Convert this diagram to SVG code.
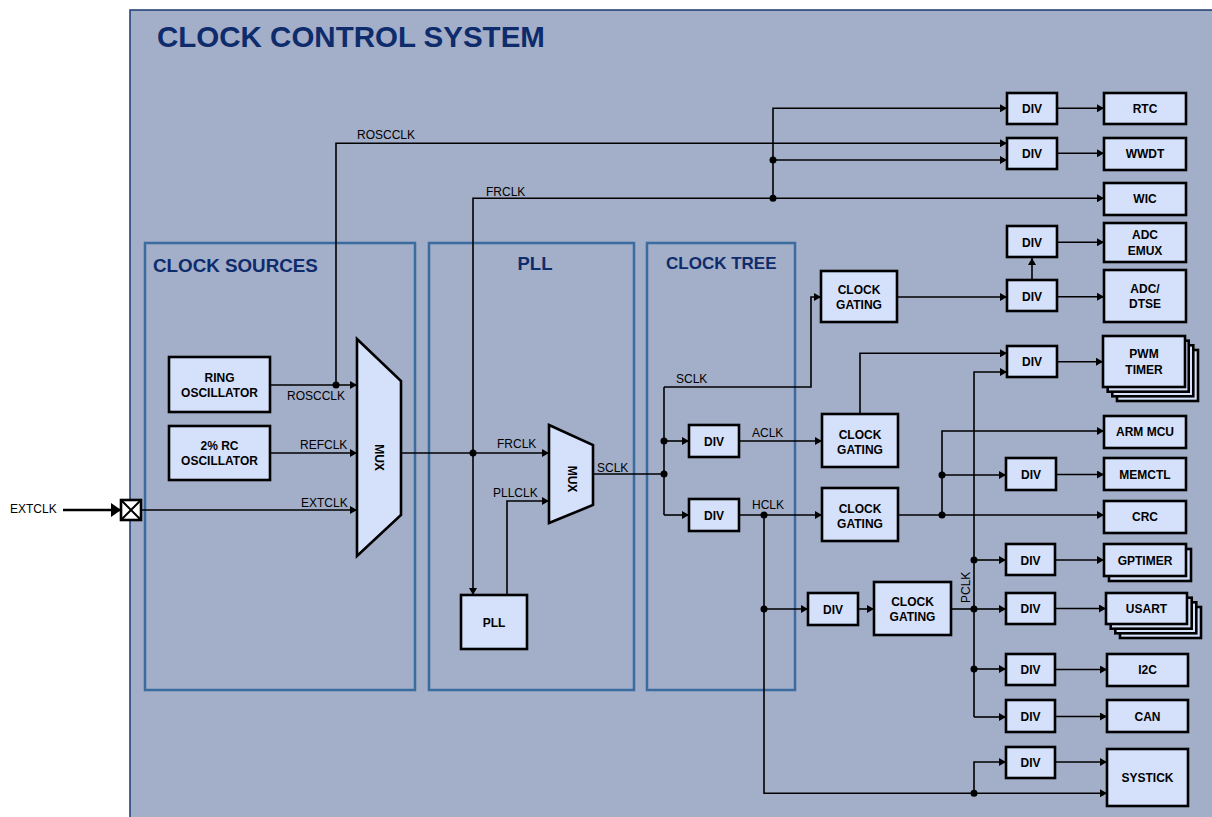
<svg xmlns="http://www.w3.org/2000/svg" width="1212" height="817" viewBox="0 0 1212 817">
<style>
.bg{fill:#a3aec9;stroke:#1b3a73;stroke-width:1.5}
.panel{fill:none;stroke:#3b6ca0;stroke-width:2.5}
.box{fill:#d5e0fb;stroke:#000;stroke-width:2.6}
.w{fill:none;stroke:#000;stroke-width:1.6}
.bt{font-family:"Liberation Sans",Arial,sans-serif;font-weight:bold;font-size:12px;text-anchor:middle;fill:#000}
.lt{font-family:"Liberation Sans",Arial,sans-serif;font-size:12px;fill:#000}
.ttl{font-family:"Liberation Sans",Arial,sans-serif;font-weight:bold;fill:#0e2b6b}
.dot{fill:#000}
</style>
<defs>
<marker id="a" markerWidth="7" markerHeight="8" refX="7" refY="4" orient="auto" markerUnits="userSpaceOnUse"><path d="M0,0 L7,4 L0,8 z" fill="#000"/></marker>
<marker id="b" markerWidth="10" markerHeight="14" refX="10" refY="7" orient="auto" markerUnits="userSpaceOnUse"><path d="M0,0 L10,7 L0,14 z" fill="#000"/></marker>
</defs>
<rect class="bg" x="130" y="10" width="1100" height="820"/>
<text class="ttl" x="157" y="47" font-size="29.5">CLOCK CONTROL SYSTEM</text>

<g id="panel-sources"><rect class="panel" x="145" y="243" width="270" height="447"/><text class="ttl" x="153" y="272" font-size="18.8">CLOCK SOURCES</text></g>
<g id="panel-pll"><rect class="panel" x="429" y="243" width="205" height="447"/><text class="ttl" x="535" y="270" font-size="18.5" text-anchor="middle">PLL</text></g>
<g id="panel-tree"><rect class="panel" x="647" y="243" width="148" height="447"/><text class="ttl" x="666" y="269" font-size="17">CLOCK TREE</text></g>

<g id="connectors">
<line x1="63" y1="510" x2="121" y2="510" stroke="#000" stroke-width="2.6" marker-end="url(#b)"/>
<path class="w" d="M141,510 H357" marker-end="url(#a)"/>
<path class="w" d="M270,385 H357" marker-end="url(#a)"/>
<path class="w" d="M336,385 V143.3 H1007" marker-end="url(#a)"/>
<path class="w" d="M270,453 H357" marker-end="url(#a)"/>
<path class="w" d="M401,453 H549" marker-end="url(#a)"/>
<path class="w" d="M473,453 V198.3 H1104" marker-end="url(#a)"/>
<path class="w" d="M473,453 V595" marker-end="url(#a)"/>
<path class="w" d="M507,595 V501 H549" marker-end="url(#a)"/>
<path class="w" d="M593,474 H664"/>
<path class="w" d="M664,387 V515"/>
<path class="w" d="M664,387 H811 V297 H821" marker-end="url(#a)"/>
<path class="w" d="M664,441 H689" marker-end="url(#a)"/>
<path class="w" d="M664,515 H689" marker-end="url(#a)"/>
<path class="w" d="M739,441 H822" marker-end="url(#a)"/>
<path class="w" d="M739,515 H822" marker-end="url(#a)"/>
<path class="w" d="M764,515 V793.3 H1107" marker-end="url(#a)"/>
<path class="w" d="M764,609 H808" marker-end="url(#a)"/>
<path class="w" d="M858,609 H874" marker-end="url(#a)"/>
<path class="w" d="M951,609 H974"/>
<path class="w" d="M974,717 V372 H1007" marker-end="url(#a)"/>
<path class="w" d="M974,560 H1006" marker-end="url(#a)"/>
<path class="w" d="M974,609 H1006" marker-end="url(#a)"/>
<path class="w" d="M974,669 H1006" marker-end="url(#a)"/>
<path class="w" d="M974,717 H1006" marker-end="url(#a)"/>
<path class="w" d="M974,793.3 V762 H1006" marker-end="url(#a)"/>
<path class="w" d="M773,198.3 V108.3 H1007" marker-end="url(#a)"/>
<path class="w" d="M773,160 H1007" marker-end="url(#a)"/>
<path class="w" d="M897,297 H1007" marker-end="url(#a)"/>
<path class="w" d="M860,414 V353.3 H1007" marker-end="url(#a)"/>
<path class="w" d="M898,515 H1104" marker-end="url(#a)"/>
<path class="w" d="M942,515 V431 H1104" marker-end="url(#a)"/>
<path class="w" d="M942,475 H1006" marker-end="url(#a)"/>
<path class="w" d="M1032,280 V258" marker-end="url(#a)"/>
<path class="w" d="M1057,108.3 H1104" marker-end="url(#a)"/>
<path class="w" d="M1057,153.3 H1104" marker-end="url(#a)"/>
<path class="w" d="M1057,242.3 H1104" marker-end="url(#a)"/>
<path class="w" d="M1057,296.7 H1104" marker-end="url(#a)"/>
<path class="w" d="M1057,361.7 H1103" marker-end="url(#a)"/>
<path class="w" d="M1056,474.5 H1104" marker-end="url(#a)"/>
<path class="w" d="M1055,560 H1104" marker-end="url(#a)"/>
<path class="w" d="M1055,608.5 H1106" marker-end="url(#a)"/>
<path class="w" d="M1055,669.5 H1107" marker-end="url(#a)"/>
<path class="w" d="M1055,716.5 H1107" marker-end="url(#a)"/>
<path class="w" d="M1055,762 H1107" marker-end="url(#a)"/>
<circle class="dot" cx="336" cy="385" r="3.5"/>
<circle class="dot" cx="473" cy="453" r="3.5"/>
<circle class="dot" cx="773" cy="198.3" r="3.5"/>
<circle class="dot" cx="773" cy="160" r="3.5"/>
<circle class="dot" cx="664" cy="474" r="3.5"/>
<circle class="dot" cx="664" cy="441" r="3.5"/>
<circle class="dot" cx="764" cy="515" r="3.5"/>
<circle class="dot" cx="764" cy="609" r="3.5"/>
<circle class="dot" cx="974" cy="793.3" r="3.5"/>
<circle class="dot" cx="974" cy="609" r="3.5"/>
<circle class="dot" cx="974" cy="560" r="3.5"/>
<circle class="dot" cx="974" cy="669" r="3.5"/>
<circle class="dot" cx="942" cy="515" r="3.5"/>
<circle class="dot" cx="942" cy="475" r="3.5"/>
<text class="lt" x="357" y="139">ROSCCLK</text>
<text class="lt" x="486" y="196">FRCLK</text>
<text class="lt" x="287" y="400">ROSCCLK</text>
<text class="lt" x="300" y="449">REFCLK</text>
<text class="lt" x="301" y="507">EXTCLK</text>
<text class="lt" x="497" y="448">FRCLK</text>
<text class="lt" x="493" y="497">PLLCLK</text>
<text class="lt" x="597" y="472">SCLK</text>
<text class="lt" x="676" y="383">SCLK</text>
<text class="lt" x="752" y="437">ACLK</text>
<text class="lt" x="752" y="509">HCLK</text>
<text class="lt" transform="translate(969.5,603) rotate(-90)">PCLK</text>
<text class="lt" x="10" y="513">EXTCLK</text>
</g>

<g id="extclk-pad"><rect x="121" y="500" width="20" height="20" fill="#fff" stroke="#000" stroke-width="2.6"/><path d="M122,501 L140,519 M140,501 L122,519" stroke="#000" stroke-width="2"/></g>

<g id="ring-osc"><rect class="box" x="169" y="357" width="101" height="55"/><text class="bt" x="219.5" y="382">RING</text><text class="bt" x="219.5" y="397">OSCILLATOR</text></g>
<g id="rc-osc"><rect class="box" x="169" y="426" width="101" height="54"/><text class="bt" x="219.5" y="449.5">2% RC</text><text class="bt" x="219.5" y="464.5">OSCILLATOR</text></g>
<g id="mux1"><polygon class="box" points="357,339 401,381 401,515 357,556"/><text class="bt" transform="translate(375,457.5) rotate(90)">MUX</text></g>
<g id="mux2"><polygon class="box" points="549,425 593,445 593,505 549,523"/><text class="bt" transform="translate(568,479) rotate(90)">MUX</text></g>
<g id="pll"><rect class="box" x="461" y="595" width="66" height="54"/><text class="bt" x="494" y="627">PLL</text></g>

<g id="div-aclk"><rect class="box" x="689" y="425" width="50" height="32"/><text class="bt" x="714" y="445.5">DIV</text></g>
<g id="div-hclk"><rect class="box" x="689" y="499" width="50" height="32"/><text class="bt" x="714" y="519.5">DIV</text></g>
<g id="div-pclk"><rect class="box" x="808" y="593" width="50" height="32"/><text class="bt" x="833" y="613.5">DIV</text></g>

<g id="cg1"><rect class="box" x="821" y="271" width="76" height="51"/><text class="bt" x="859" y="293.5">CLOCK</text><text class="bt" x="859" y="308.5">GATING</text></g>
<g id="cg2"><rect class="box" x="822" y="414" width="76" height="53"/><text class="bt" x="860" y="438.5">CLOCK</text><text class="bt" x="860" y="453.5">GATING</text></g>
<g id="cg3"><rect class="box" x="822" y="488" width="76" height="53"/><text class="bt" x="860" y="512.5">CLOCK</text><text class="bt" x="860" y="527.5">GATING</text></g>
<g id="cg4"><rect class="box" x="874" y="582" width="77" height="53"/><text class="bt" x="912.5" y="606">CLOCK</text><text class="bt" x="912.5" y="621">GATING</text></g>

<g id="div-rtc"><rect class="box" x="1007" y="93" width="50" height="31"/><text class="bt" x="1032" y="113">DIV</text></g>
<g id="div-wwdt"><rect class="box" x="1007" y="138" width="50" height="31"/><text class="bt" x="1032" y="158">DIV</text></g>
<g id="div-emux"><rect class="box" x="1007" y="226" width="50" height="31"/><text class="bt" x="1032" y="246.5">DIV</text></g>
<g id="div-dtse"><rect class="box" x="1007" y="280" width="50" height="31"/><text class="bt" x="1032" y="300.5">DIV</text></g>
<g id="div-pwm"><rect class="box" x="1007" y="346" width="50" height="31"/><text class="bt" x="1032" y="366">DIV</text></g>
<g id="div-mem"><rect class="box" x="1006" y="458" width="50" height="32"/><text class="bt" x="1031" y="478.5">DIV</text></g>
<g id="div-gpt"><rect class="box" x="1006" y="544" width="49" height="31"/><text class="bt" x="1030.5" y="564.5">DIV</text></g>
<g id="div-usart"><rect class="box" x="1006" y="593" width="49" height="31"/><text class="bt" x="1030.5" y="613">DIV</text></g>
<g id="div-i2c"><rect class="box" x="1006" y="654" width="49" height="31"/><text class="bt" x="1030.5" y="674">DIV</text></g>
<g id="div-can"><rect class="box" x="1006" y="700" width="49" height="32"/><text class="bt" x="1030.5" y="720.5">DIV</text></g>
<g id="div-systick"><rect class="box" x="1006" y="747" width="49" height="31"/><text class="bt" x="1030.5" y="767">DIV</text></g>

<g id="rtc"><rect class="box" x="1104" y="93" width="82" height="31"/><text class="bt" x="1145" y="113">RTC</text></g>
<g id="wwdt"><rect class="box" x="1104" y="138" width="82" height="32"/><text class="bt" x="1145" y="158">WWDT</text></g>
<g id="wic"><rect class="box" x="1104" y="183" width="82" height="32"/><text class="bt" x="1145" y="203">WIC</text></g>
<g id="adc-emux"><rect class="box" x="1104" y="223" width="82" height="39"/><text class="bt" x="1145" y="239">ADC</text><text class="bt" x="1145" y="254.5">EMUX</text></g>
<g id="adc-dtse"><rect class="box" x="1104" y="270" width="82" height="52"/><text class="bt" x="1145" y="292.5">ADC/</text><text class="bt" x="1145" y="307.5">DTSE</text></g>
<g id="pwm-timer"><rect class="box" x="1117" y="350" width="81" height="51"/><rect class="box" x="1112.3" y="345.3" width="81" height="51"/><rect class="box" x="1107.7" y="340.7" width="81" height="51"/><rect class="box" x="1103" y="336" width="82" height="51"/><text class="bt" x="1144" y="358">PWM</text><text class="bt" x="1144" y="373.5">TIMER</text></g>
<g id="arm-mcu"><rect class="box" x="1104" y="416" width="82" height="32"/><text class="bt" x="1145" y="436">ARM MCU</text></g>
<g id="memctl"><rect class="box" x="1104" y="458" width="82" height="32"/><text class="bt" x="1145" y="478.5">MEMCTL</text></g>
<g id="crc"><rect class="box" x="1104" y="501" width="82" height="32"/><text class="bt" x="1145" y="521">CRC</text></g>
<g id="gptimer"><rect class="box" x="1109" y="549" width="82" height="32"/><rect class="box" x="1104" y="544" width="82" height="32"/><text class="bt" x="1145" y="564.5">GPTIMER</text></g>
<g id="usart"><rect class="box" x="1120" y="607" width="81" height="31"/><rect class="box" x="1115.3" y="602.3" width="81" height="31"/><rect class="box" x="1110.7" y="597.7" width="81" height="31"/><rect class="box" x="1106" y="593" width="81" height="31"/><text class="bt" x="1146.5" y="613">USART</text></g>
<g id="i2c"><rect class="box" x="1107" y="654" width="81" height="32"/><text class="bt" x="1147.5" y="674">I2C</text></g>
<g id="can"><rect class="box" x="1107" y="700" width="81" height="32"/><text class="bt" x="1147.5" y="720.5">CAN</text></g>
<g id="systick"><rect class="box" x="1107" y="749" width="81" height="57"/><text class="bt" x="1147.5" y="782">SYSTICK</text></g>
</svg>
